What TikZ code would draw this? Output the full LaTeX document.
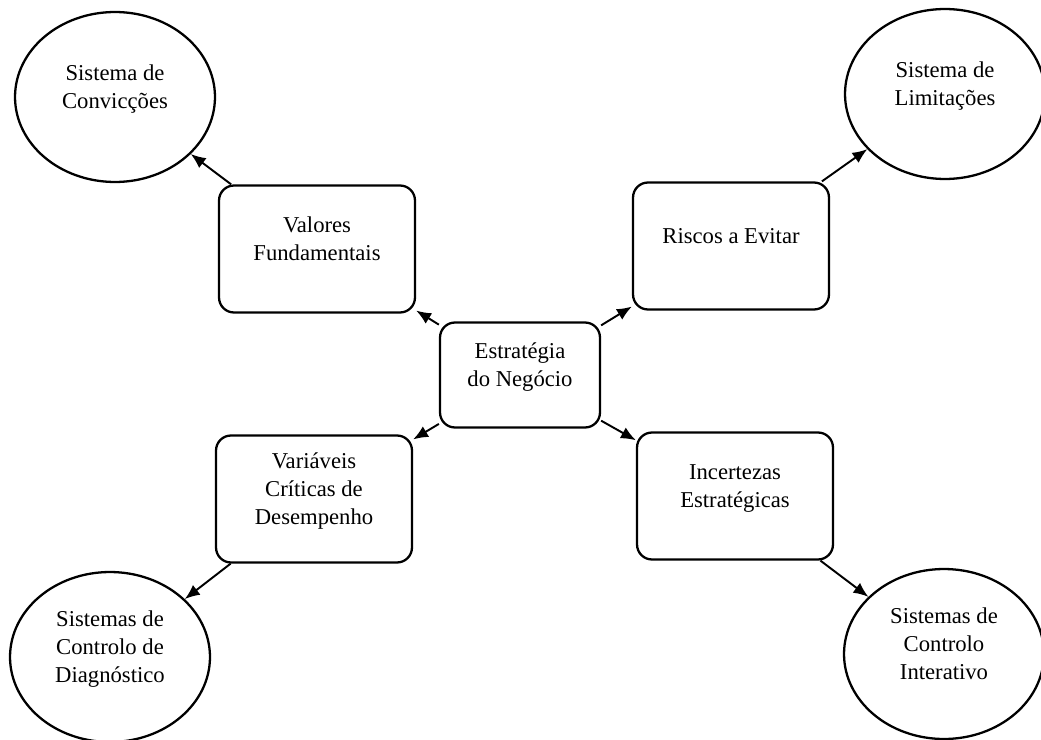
\documentclass[tikz,border=0pt]{standalone}
\usepackage{fontspec}
\setmainfont{Liberation Serif}
\usetikzlibrary{shapes.geometric,arrows.meta}
\newcommand{\lbl}[1]{\raisebox{0pt}[\height][\dimexpr\depth+9pt\relax]{\begin{tabular}{@{}c@{}}#1\end{tabular}}}
\tikzset{
	caixa/.style={draw,line width=1.3pt,rounded corners=0.3cm,minimum width=3.92cm,minimum height=2.54cm,inner sep=0pt},
	sistema/.style={draw,ellipse,line width=1.3pt,minimum width=4cm,minimum height=3.4cm,inner sep=0pt},
	seta/.style={line width=1.1pt,-{Latex[length=8.5pt,width=7pt]}}
}
\begin{document}
\begin{tikzpicture}[x=0.02cm,y=-0.02cm,font=\fontsize{12.9}{15.9}\selectfont]
	\useasboundingbox (0,0) rectangle (1041,740);
	
	% os quatro sistemas
	\node[sistema] (conviccoes) at (115,97) {\lbl{Sistema de\\Convicções}};
	\node[sistema] (limitacoes) at (945,94) {\lbl{Sistema de\\Limitações}};
	\node[sistema] (diagnostico) at (110,657) {\lbl{Sistemas de\\Controlo de\\Diagnóstico}};
	\node[sistema] (interativo) at (944,654) {\lbl{Sistemas de\\Controlo\\Interativo}};
	
	% caixas
	\node[caixa] (valores) at (317,249) {\lbl{Valores\\Fundamentais}};
	\node[caixa] (riscos) at (731,246) {\lbl{Riscos a Evitar}};
	\node[caixa] (variaveis) at (314,499) {\lbl{Variáveis\\Críticas de\\Desempenho}};
	\node[caixa] (incertezas) at (735,496) {\lbl{Incertezas\\Estratégicas}};
	
	% centro
	\node[caixa,minimum width=3.2cm,minimum height=2.1cm] (estrategia) at (520,375) {\lbl{Estratégia\\do Negócio}};
	
	\draw[seta] (estrategia) -- (valores);
	\draw[seta] (estrategia) -- (riscos);
	\draw[seta] (estrategia) -- (variaveis);
	\draw[seta] (estrategia) -- (incertezas);
	
	\draw[seta] (valores) -- (conviccoes);
	\draw[seta] (riscos) -- (limitacoes);
	\draw[seta] (variaveis) -- (diagnostico);
	\draw[seta] (incertezas) -- (interativo);
	
\end{tikzpicture}
\end{document}
